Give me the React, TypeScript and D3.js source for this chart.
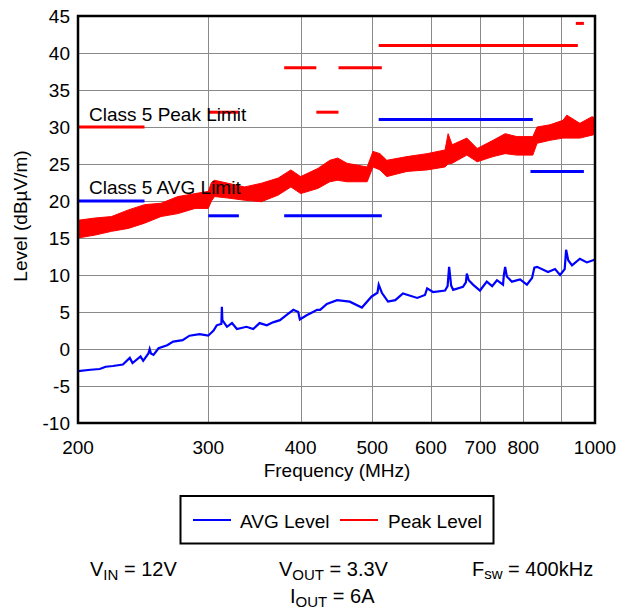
import React from "react";
import * as d3 from "d3";

const xTicks = [200, 300, 400, 500, 600, 700, 800, 1000];
const xGrid = [300, 400, 500, 600, 700, 800, 900];
const yTicks = [-10, -5, 0, 5, 10, 15, 20, 25, 30, 35, 40, 45];

const peakFreq = [200,211,222,234,246,259,273,288,300,303,306,319,336,354,373,388,400,422,438,449,462,492,501,512,523,557,593,627,633,641,671,693,728,756,784,824,835,869,905,916,954,991,1000];
const peakHi = [17.4,17.7,17.9,18.8,19.5,19.7,20.6,21.0,21.3,22.5,22.8,22.4,21.9,22.4,23.1,24.2,23.3,24.4,25.5,25.8,25.1,24.6,26.7,26.4,25.5,26.0,26.4,26.9,29.1,27.6,28.5,27.1,28.2,29.1,28.7,28.7,30.0,30.3,30.9,31.6,30.5,31.4,31.2];
const peakLo = [15.0,15.4,15.9,16.3,17.0,17.9,18.3,19.0,19.0,20.0,20.6,20.4,20.1,19.9,20.8,21.9,21.0,21.7,22.6,22.8,22.6,22.6,24.6,24.2,23.3,24.0,24.2,24.6,25.0,25.1,26.2,25.3,26.0,26.4,26.2,26.2,27.8,28.2,28.5,28.5,28.5,28.9,29.0];

const avgFreq = [200,208,214,218,223,230,235,237,243,245,249,250,251,253,257,264,269,277,283,292,300,305,308,312.5,313,313.5,318,323,328,338,345,352,360,367,375,383,391,397,399,408,412,421,425,434,448,466,484,499,508,510,515,525,537,550,575,589,593,604,627,632,635,639,643,663,669,671,675,684,699,714,726,737,751,753,756,760,772,792,809,822,828,835,864,883,897,910,914,920,931,954,975,994,1000];
const avgVal = [-3.0,-2.8,-2.7,-2.4,-2.3,-2.1,-1.2,-1.9,-1.0,-1.6,-0.6,0.0,-0.6,-0.8,0.1,0.5,1.0,1.2,1.8,2.0,1.8,2.5,3.2,3.4,5.7,3.9,3.0,3.5,2.7,3.0,2.7,3.5,3.2,3.6,3.9,4.6,5.3,5.0,4.0,4.6,4.8,5.3,5.3,6.1,6.6,6.4,5.6,7.1,7.6,8.7,7.6,6.4,6.6,7.5,6.9,7.3,8.2,7.7,7.9,8.5,11.1,8.6,8.0,8.4,9.0,10.2,9.3,8.7,7.9,9.1,8.5,9.3,8.7,10.0,11.1,9.8,9.1,9.4,8.7,9.6,11.0,11.1,10.4,10.8,10.0,10.8,13.4,12.0,11.3,12.2,11.7,12.0,12.1];

// limit segments: start MHz, end MHz, level
const peakLimitStart = [200, 300, 380, 420, 450, 510, 942];
const peakLimitEnd = [246, 330, 420, 450, 515, 948, 966];
const peakLimitLevel = [30, 32, 38, 32, 38, 41, 44];
const avgLimitStart = [200, 300, 380, 510, 818];
const avgLimitEnd = [246, 330, 515, 824, 966];
const avgLimitLevel = [20, 18, 18, 31, 24];

const FONT = "'Liberation Sans', Arial, sans-serif";

export default function App() {
  const x = d3.scaleLog().domain([200, 1000]).range([78, 595]);
  const y = d3.scaleLinear().domain([-10, 45]).range([423, 16]);

  const peakPts = peakFreq.map((f, i) => ({ f, lo: peakLo[i], hi: peakHi[i] }));
  const area = d3
    .area<{ f: number; lo: number; hi: number }>()
    .x((d) => x(d.f))
    .y0((d) => y(d.lo))
    .y1((d) => y(d.hi));
  const avgPts = avgFreq.map((f, i) => ({ f, v: avgVal[i] }));
  const line = d3
    .line<{ f: number; v: number }>()
    .x((d) => x(d.f))
    .y((d) => y(d.v));

  const fs = 19;
  const bfs = 20;
  const sub = 15;
  return (
    <svg
      width={618}
      height={615}
      style={{ position: "absolute", left: 0, top: 0, background: "#fff" }}
      fontFamily={FONT}
    >
      <rect x={0} y={0} width={618} height={615} fill="#fff" />
      {/* grid */}
      {xGrid.map((g) => (
        <line key={"gx" + g} x1={Math.round(x(g)) + 0.5} x2={Math.round(x(g)) + 0.5} y1={16} y2={423} stroke="#8a8a8a" strokeWidth={1} />
      ))}
      {yTicks.slice(1, -1).map((t) => (
        <line key={"gy" + t} x1={78} x2={595} y1={Math.round(y(t)) + 0.5} y2={Math.round(y(t)) + 0.5} stroke="#8a8a8a" strokeWidth={1} />
      ))}
      {/* limit lines */}
      {peakLimitStart.map((s, i) => (
        <line key={"pl" + i} x1={x(s)} x2={x(peakLimitEnd[i])} y1={y(peakLimitLevel[i])} y2={y(peakLimitLevel[i])} stroke="#ff0000" strokeWidth={3} />
      ))}
      {avgLimitStart.map((s, i) => (
        <line key={"al" + i} x1={x(s)} x2={x(avgLimitEnd[i])} y1={y(avgLimitLevel[i])} y2={y(avgLimitLevel[i])} stroke="#0000ff" strokeWidth={3} />
      ))}
      {/* data */}
      <path d={area(peakPts) || ""} fill="#ff0000" stroke="#ff0000" strokeWidth={1} />
      <path d={line(avgPts) || ""} fill="none" stroke="#0000ff" strokeWidth={2.2} />
      {/* labels inside plot */}
      <text x={89} y={121} fontSize={fs} fill="#000">Class 5 Peak Limit</text>
      <text x={89} y={194} fontSize={fs} fill="#000">Class 5 AVG Limit</text>
      {/* border */}
      <rect x={78} y={16} width={517} height={407} fill="none" stroke="#000" strokeWidth={2.5} />
      {/* y ticks */}
      {yTicks.map((t) => (
        <text key={"yt" + t} x={70} y={y(t) + 7} fontSize={fs} textAnchor="end" fill="#000">{t}</text>
      ))}
      {/* x ticks */}
      {xTicks.map((t) => (
        <text key={"xt" + t} x={x(t)} y={454} fontSize={fs} textAnchor="middle" fill="#000">{t}</text>
      ))}
      <text x={337} y={477} fontSize={fs} textAnchor="middle" fill="#000">Frequency (MHz)</text>
      <text transform="translate(27,216) rotate(-90)" fontSize={fs} textAnchor="middle" fill="#000">Level (dBµV/m)</text>
      {/* legend */}
      <rect x={180.5} y={496} width={313} height={47.5} fill="#fff" stroke="#000" strokeWidth={2} />
      <line x1={193} x2={231} y1={520} y2={520} stroke="#0000ff" strokeWidth={2} />
      <text x={240} y={528} fontSize={fs} fill="#000">AVG Level</text>
      <line x1={340} x2={378} y1={520} y2={520} stroke="#ff0000" strokeWidth={2} />
      <text x={388} y={528} fontSize={fs} fill="#000">Peak Level</text>
      {/* conditions */}
      <text x={90} y={576} fontSize={bfs} fill="#000">V<tspan fontSize={sub} dy={4}>IN</tspan><tspan dy={-4}> = 12V</tspan></text>
      <text x={279} y={576} fontSize={bfs} fill="#000">V<tspan fontSize={sub} dy={4}>OUT</tspan><tspan dy={-4}> = 3.3V</tspan></text>
      <text x={472} y={576} fontSize={bfs} fill="#000">F<tspan fontSize={sub} dy={3}>sw</tspan><tspan dy={-3}> = 400kHz</tspan></text>
      <text x={290} y={603} fontSize={bfs} fill="#000">I<tspan fontSize={sub} dy={4}>OUT</tspan><tspan dy={-4}> = 6A</tspan></text>
    </svg>
  );
}
